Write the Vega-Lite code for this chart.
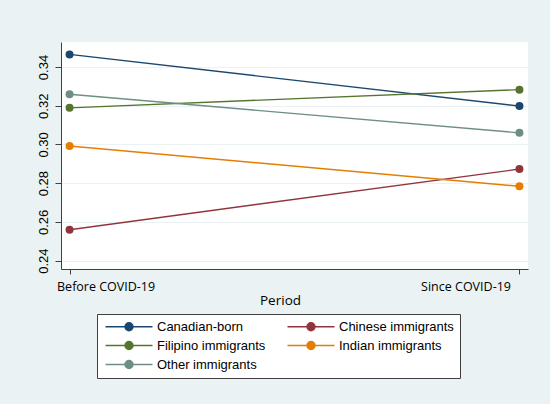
{
  "$schema": "https://vega.github.io/schema/vega-lite/v6.json",
  "autosize": "none",
  "width": 467,
  "height": 227,
  "padding": {"left": 61, "top": 42, "right": 22, "bottom": 135},
  "background": "#eaf2f3",
  "data": {
    "values": [
      {"group": "Canadian-born", "period": "Before COVID-19", "value": 0.3465},
      {"group": "Canadian-born", "period": "Since COVID-19", "value": 0.3198},
      {"group": "Chinese immigrants", "period": "Before COVID-19", "value": 0.2560},
      {"group": "Chinese immigrants", "period": "Since COVID-19", "value": 0.2873},
      {"group": "Filipino immigrants", "period": "Before COVID-19", "value": 0.3189},
      {"group": "Filipino immigrants", "period": "Since COVID-19", "value": 0.3283},
      {"group": "Indian immigrants", "period": "Before COVID-19", "value": 0.2992},
      {"group": "Indian immigrants", "period": "Since COVID-19", "value": 0.2784},
      {"group": "Other immigrants", "period": "Before COVID-19", "value": 0.3259},
      {"group": "Other immigrants", "period": "Since COVID-19", "value": 0.3060}
    ]
  },
  "mark": {
    "type": "line",
    "strokeWidth": 1.4,
    "point": {"filled": true, "size": 64, "opacity": 1}
  },
  "encoding": {
    "x": {
      "field": "period",
      "type": "nominal",
      "title": "Period",
      "scale": {"type": "point", "padding": 0.019},
      "axis": {
        "labelAngle": 0,
        "labelFont": "Open Sans",
        "labelFontSize": 12.5,
        "labelColor": "#000000",
        "labelAlign": {"condition": {"test": "datum.value == 'Before COVID-19'", "value": "left"}, "value": "right"},
        "labelOffset": {"condition": {"test": "datum.value == 'Before COVID-19'", "value": -13}, "value": -9},
        "labelPadding": 6,
        "tickSize": 5,
        "tickColor": "#404040",
        "domainColor": "#404040",
        "titleFont": "Open Sans",
        "titleFontSize": 13.5,
        "titleFontWeight": "normal",
        "titleColor": "#000000",
        "titleX": 219,
        "titleY": 31,
        "titleBaseline": "middle",
        "titleAnchor": null
      }
    },
    "y": {
      "field": "value",
      "type": "quantitative",
      "title": null,
      "scale": {"domain": [0.2357, 0.3529], "nice": false, "zero": false},
      "axis": {
        "values": [0.24, 0.26, 0.28, 0.30, 0.32, 0.34],
        "format": ".2f",
        "labelAngle": -90,
        "labelFont": "Liberation Sans",
        "labelFontSize": 13,
        "labelColor": "#000000",
        "labelPadding": 5,
        "tickSize": 6,
        "tickColor": "#404040",
        "domainColor": "#404040",
        "grid": true,
        "gridColor": "#eaf2f3",
        "gridWidth": 1
      }
    },
    "color": {
      "field": "group",
      "type": "nominal",
      "title": null,
      "scale": {
        "domain": ["Canadian-born", "Filipino immigrants", "Other immigrants", "Chinese immigrants", "Indian immigrants"],
        "range": ["#1a476f", "#55752f", "#6e8e84", "#90353b", "#e37e00"]
      },
      "legend": {
        "orient": "none",
        "legendX": 36,
        "legendY": 272,
        "columns": 2,
        "symbolType": "M-1,0H10.75M5.875,0A1,1,0,1,1,3.875,0A1,1,0,1,1,5.875,0Z",
        "symbolSize": 64,
        "symbolStrokeWidth": 1.4,
        "labelFont": "Liberation Sans",
        "labelFontSize": 13,
        "labelColor": "#000000",
        "labelOffset": 41,
        "columnPadding": 18,
        "rowPadding": 4,
        "padding": 6,
        "fillColor": "#ffffff",
        "strokeColor": "#404040",
        "encode": {
          "symbols": {
            "update": {
              "fill": {"scale": "color", "field": "value"},
              "stroke": {"scale": "color", "field": "value"},
              "opacity": {"value": 1}
            }
          }
        }
      }
    }
  },
  "config": {
    "view": {"fill": "#ffffff", "stroke": null},
    "axis": {"domainWidth": 1}
  }
}
